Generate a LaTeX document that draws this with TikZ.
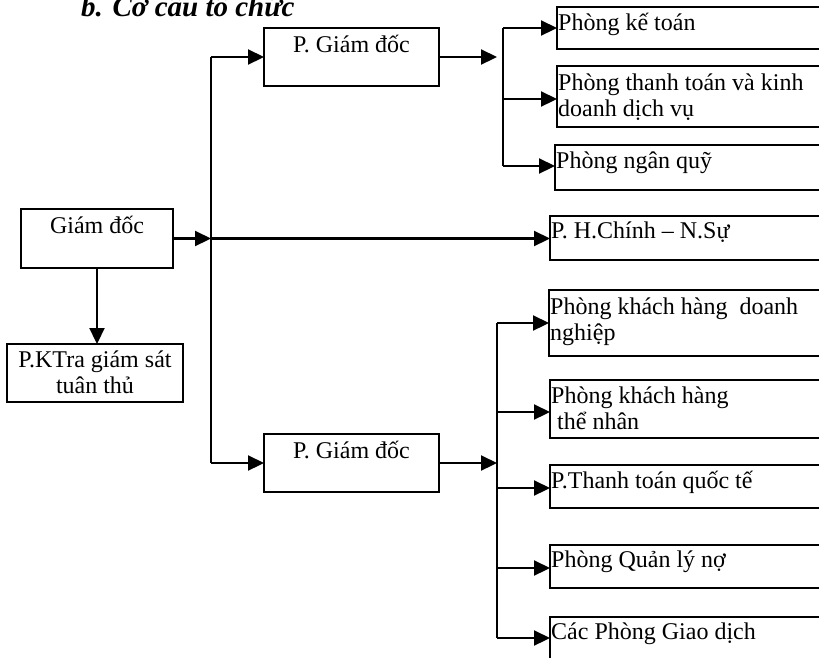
\documentclass[tikz,border=0pt]{standalone}
\usepackage{fontspec}
\setmainfont{Liberation Serif}
\usetikzlibrary{arrows.meta}
\begin{document}
\begin{tikzpicture}[x=1pt,y=-1pt,
  box/.style={draw, line width=2pt, rectangle, inner sep=0pt, outer sep=0pt, anchor=north west},
  lbl/.style={inner sep=0pt, font=\fontsize{24}{26.5}\selectfont},
  rl/.style={lbl, anchor=north west, align=left},
  cl/.style={lbl, anchor=north, align=center},
  conn/.style={line width=2.2pt},
  arr/.style={conn, -{Triangle[length=16pt,width=15pt]}},
]
\useasboundingbox (0,0) rectangle (819,657);
\clip (0,0) rectangle (819,657);

% title
\node[anchor=base west, inner sep=0pt, font=\fontsize{29}{31}\selectfont\bfseries\itshape] (title) at (81,16) {b. Cơ cấu tổ chức};

% boxes
\node[box, minimum width=152pt, minimum height=59pt] (gd) at (21,209) {};
\node[box, minimum width=176pt, minimum height=58pt] (kt) at (7,344) {};
\node[box, minimum width=175pt, minimum height=58pt] (pgd1) at (264,28) {};
\node[box, minimum width=175pt, minimum height=58pt] (pgd2) at (264,434) {};
\node[box, minimum width=283pt, minimum height=42pt] (r1) at (557,7) {};
\node[box, minimum width=283pt, minimum height=61pt] (r2) at (557,66) {};
\node[box, minimum width=285pt, minimum height=45pt] (r3) at (555,145) {};
\node[box, minimum width=290pt, minimum height=44pt] (hc) at (550,216) {};
\node[box, minimum width=291pt, minimum height=66pt] (kd) at (549,290) {};
\node[box, minimum width=290pt, minimum height=58pt] (tn) at (550,380) {};
\node[box, minimum width=290pt, minimum height=43pt] (qt) at (550,465) {};
\node[box, minimum width=290pt, minimum height=43pt] (no) at (550,545) {};
\node[box, minimum width=290pt, minimum height=80pt] (gdich) at (550,617) {};

% labels
\node[cl] (gdT) at (gd.north) {\rule{0pt}{24pt}Giám đốc};
\node[cl] (ktT) at (kt.north) {\rule{0pt}{23pt}P.KTra giám sát\\tuân thủ};
\node[cl] (pgd1T) at (pgd1.north) {\rule{0pt}{24pt}P. Giám đốc};
\node[cl] (pgd2T) at (pgd2.north) {\rule{0pt}{24pt}P. Giám đốc};
\node[rl] (r1T) at ([xshift=1pt]r1.north west) {\rule{0pt}{23pt}Phòng kế toán};
\node[rl] (r2T) at ([xshift=1pt]r2.north west) {\rule{0pt}{24pt}Phòng thanh toán và kinh\\doanh dịch vụ};
\node[rl] (r3T) at ([xshift=1pt]r3.north west) {\rule{0pt}{23pt}Phòng ngân quỹ};
\node[rl] (hcT) at ([xshift=1pt]hc.north west) {\rule{0pt}{22pt}P. H.Chính – N.Sự};
\node[rl] (kdT) at ([xshift=1pt]kd.north west) {\rule{0pt}{24pt}Phòng khách hàng~ doanh\\nghiệp};
\node[rl] (tnT) at ([xshift=1pt]tn.north west) {\rule{0pt}{23pt}Phòng khách hàng\\\hspace*{6pt}thể nhân};
\node[rl] (qtT) at ([xshift=1pt]qt.north west) {\rule{0pt}{23pt}P.Thanh toán quốc tế};
\node[rl] (noT) at ([xshift=1pt]no.north west) {\rule{0pt}{22pt}Phòng Quản lý nợ};
\node[rl] (gdichT) at ([xshift=1pt]gdich.north west) {\rule{0pt}{22pt}Các Phòng Giao dịch};

% main vertical connector
\coordinate (vX) at (211,0);
\coordinate (vT) at (pgd1.west -| vX);
\coordinate (vM) at (gd.east -| vX);
\coordinate (vB) at (pgd2.west -| vX);
\draw[conn] (vT) -- (vB);
\draw[arr] (vT) -- (pgd1.west);
\draw[arr] (gd.east) -- (vM);
\draw[arr] (vM) -- (vM -| hc.west);
\draw[arr] (vB) -- (pgd2.west);
\draw[arr] (gd.south) -- (gd.south |- kt.north);

% upper branch
\coordinate (uTip) at (497,0);
\draw[arr] (pgd1.east) -- (pgd1.east -| uTip);
\coordinate (u1) at (503,28);
\coordinate (u2) at (503,99);
\coordinate (u3) at (503,166);
\draw[conn] (u1) -- (u3);
\draw[arr] (u1) -- (u1 -| r1.west);
\draw[arr] (u2) -- (u2 -| r2.west);
\draw[arr] (u3) -- (u3 -| r3.west);

% lower branch
\coordinate (l1) at (497,323);
\coordinate (l2) at (497,412);
\coordinate (l3) at (497,488);
\coordinate (l4) at (497,568);
\coordinate (l5) at (497,638);
\draw[arr] (pgd2.east) -- (pgd2.east -| l1);
\draw[conn] (l1) -- (l5);
\draw[arr] (l1) -- (l1 -| kd.west);
\draw[arr] (l2) -- (l2 -| tn.west);
\draw[arr] (l3) -- (l3 -| qt.west);
\draw[arr] (l4) -- (l4 -| no.west);
\draw[arr] (l5) -- (l5 -| gdich.west);
\end{tikzpicture}
\end{document}
